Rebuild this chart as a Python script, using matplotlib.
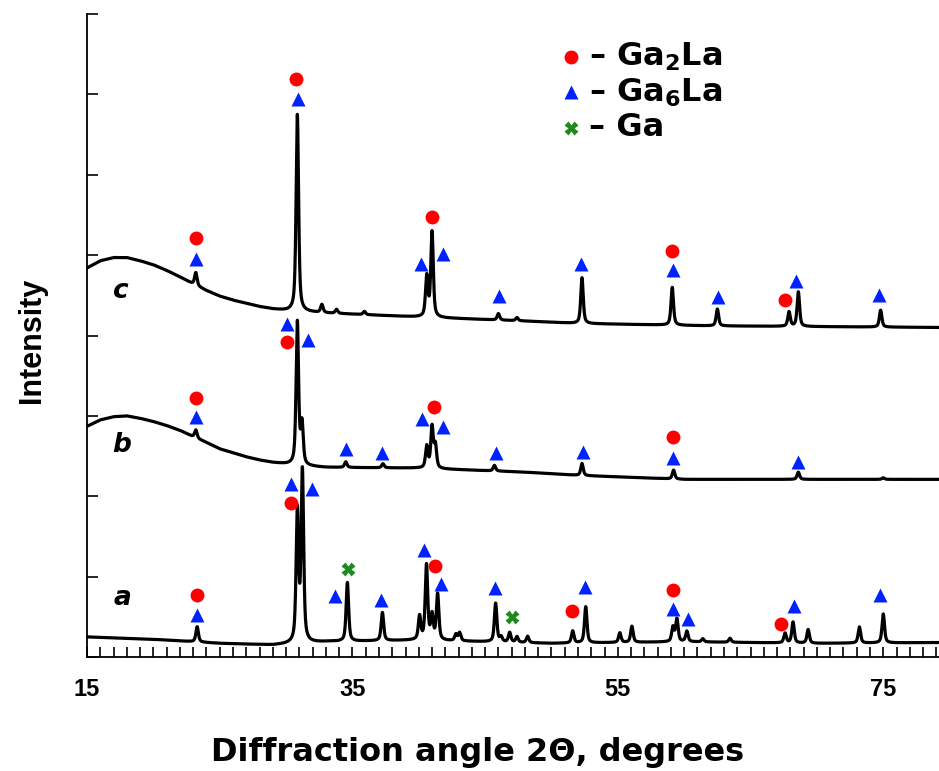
import numpy as np
import matplotlib
matplotlib.use("Agg")
import matplotlib.pyplot as plt
from matplotlib.ticker import FixedLocator, MultipleLocator

plt.rcParams["font.family"] = ["Liberation Sans", "DejaVu Sans"]
plt.rcParams["font.weight"] = "bold"
plt.rcParams["mathtext.fontset"] = "custom"
plt.rcParams["mathtext.rm"] = "DejaVu Sans:bold"
plt.rcParams["mathtext.default"] = "rm"

WIDE = ["DejaVu Sans"]

X_MIN, X_MAX = 15.0, 79.2
X_TICKS = [15, 35, 55, 75]

# Background of each pattern: (2theta, level) control points, stacking offset included
bg_a_x = [15, 20, 25, 29, 33, 40, 50, 60, 70, 79.2]
bg_a_y = [0.25, 0.22, 0.17, 0.15, 0.19, 0.21, 0.17, 0.19, 0.17, 0.18]

bg_b_x = [15, 16, 17, 18, 19, 20, 21, 22, 23, 24, 25, 26, 27, 28, 29, 30, 31, 33,
          40, 48, 52, 60, 79.2]
bg_b_y = [2.87, 2.95, 2.99, 3.00, 2.97, 2.93, 2.88, 2.82, 2.74, 2.67, 2.59, 2.54,
          2.49, 2.45, 2.42, 2.40, 2.38, 2.36, 2.35, 2.30, 2.26, 2.21, 2.21]

bg_c_x = [15, 16, 17, 18, 19, 20, 21, 22, 23, 24, 25, 26, 27, 28, 29, 30, 33, 40,
          48, 52, 62, 79.2]
bg_c_y = [4.84, 4.93, 4.97, 4.97, 4.93, 4.88, 4.81, 4.73, 4.64, 4.56, 4.49, 4.44,
          4.40, 4.36, 4.33, 4.31, 4.28, 4.23, 4.18, 4.15, 4.12, 4.10]

# Reflections: position (deg) and height above background
pk_a_pos = [23.3, 30.85, 31.23, 34.62, 37.26, 40.06, 40.58, 41.0, 41.42, 42.8, 43.08,
            45.79, 46.2, 46.85, 47.4, 48.2, 51.6, 52.58, 55.15, 56.06, 59.15, 59.45,
            60.2, 61.4, 63.45, 67.6, 68.2, 69.34, 73.2, 75.0]
pk_a_h = [0.19, 1.62, 2.12, 0.73, 0.35, 0.29, 0.93, 0.30, 0.57, 0.08, 0.10,
          0.48, 0.06, 0.12, 0.07, 0.08, 0.15, 0.45, 0.12, 0.20, 0.18, 0.28,
          0.13, 0.04, 0.05, 0.12, 0.26, 0.17, 0.20, 0.36]

pk_b_pos = [23.2, 30.85, 31.2, 34.5, 37.3, 40.6, 41.0, 41.25, 45.7, 52.3, 59.2, 68.6, 75.0]
pk_b_h = [0.10, 1.78, 0.50, 0.07, 0.05, 0.27, 0.51, 0.28, 0.07, 0.15, 0.11, 0.09, 0.02]

pk_c_pos = [23.2, 30.85, 32.7, 33.8, 35.9, 40.6, 41.0, 46.0, 47.4, 52.3, 59.1, 62.5,
            67.9, 68.6, 74.8]
pk_c_h = [0.16, 2.45, 0.10, 0.05, 0.04, 0.50, 1.06, 0.08, 0.04, 0.57, 0.47, 0.21,
          0.18, 0.43, 0.21]

# Phase markers (2theta, level) for each pattern
a_ga2la_x = [23.30, 30.40, 41.26, 51.53, 59.15, 67.30]
a_ga2la_y = [0.77, 1.92, 1.13, 0.57, 0.83, 0.41]
a_ga6la_x = [23.30, 30.40, 31.98, 33.72, 37.19, 40.43, 41.64, 45.72, 52.51, 59.15, 60.28, 68.28, 74.77]
a_ga6la_y = [0.52, 2.15, 2.09, 0.76, 0.71, 1.33, 0.91, 0.86, 0.87, 0.60, 0.47, 0.63, 0.77]
a_ga_x = [34.70, 47.00]
a_ga_y = [1.09, 0.50]

b_ga2la_x = [23.23, 30.09, 41.11, 59.15]
b_ga2la_y = [3.22, 3.92, 3.11, 2.74]
b_ga6la_x = [23.23, 30.09, 31.68, 34.55, 37.26, 40.21, 41.79, 45.79, 52.36, 59.15, 68.58]
b_ga6la_y = [2.99, 4.14, 3.94, 2.59, 2.54, 2.96, 2.86, 2.54, 2.55, 2.48, 2.43]

c_ga2la_x = [23.23, 30.77, 40.96, 59.08, 67.60]
c_ga2la_y = [5.21, 7.19, 5.47, 5.05, 4.44]
c_ga6la_x = [23.23, 30.92, 40.13, 41.79, 46.02, 52.21, 59.15, 62.55, 68.43, 74.70]
c_ga6la_y = [4.95, 6.94, 4.89, 5.02, 4.49, 4.89, 4.81, 4.48, 4.68, 4.50]

RED = "#ff0000"
BLUE = "#0022ff"
GREEN = "#1e8a1e"


def pattern(x, bg_x, bg_y, pos, h, hw=0.11):
    y = np.interp(x, bg_x, bg_y)
    for p, a in zip(pos, h):
        d = (x - p) / hw
        # pseudo-Voigt profile
        y += a * (0.6 / (1 + d ** 2) + 0.4 * np.exp(-np.log(2) * d ** 2))
    return y


def main():
    fig = plt.figure(figsize=(9.39, 7.71), dpi=100)
    ax = fig.add_axes([87 / 939, 114 / 771, 852 / 939, 643 / 771])

    x = np.arange(X_MIN, X_MAX, 0.005)
    for bx, by, pos, h in [(bg_a_x, bg_a_y, pk_a_pos, pk_a_h),
                           (bg_b_x, bg_b_y, pk_b_pos, pk_b_h),
                           (bg_c_x, bg_c_y, pk_c_pos, pk_c_h)]:
        ax.plot(x, pattern(x, bx, by, pos, h), color="black", lw=2.3)

    ms = 10
    for gx, gy in [(a_ga2la_x, a_ga2la_y), (b_ga2la_x, b_ga2la_y), (c_ga2la_x, c_ga2la_y)]:
        ax.plot(gx, gy, "o", color=RED, ms=ms, mec="none")
    for gx, gy in [(a_ga6la_x, a_ga6la_y), (b_ga6la_x, b_ga6la_y), (c_ga6la_x, c_ga6la_y)]:
        ax.plot(gx, gy, "^", color=BLUE, ms=ms, mec="none")
    ax.plot(a_ga_x, a_ga_y, "X", color=GREEN, ms=ms, mec="none")

    for name, lx, ly in [("a", 17.64, 0.73), ("b", 17.64, 2.64), ("c", 17.49, 4.55)]:
        ax.text(lx, ly, name, fontsize=19, family=WIDE, style="italic",
                fontweight="bold", ha="center", va="center")

    # legend drawn by hand
    legend = [("o", RED, "– Ga$_2$La"), ("^", BLUE, "– Ga$_6$La"), ("X", GREEN, "– Ga")]
    for i, (m, c, lab) in enumerate(legend):
        yy = 0.933 - i * 0.055
        ax.plot([0.568], [yy], m, color=c, ms=ms, mec="none", transform=ax.transAxes)
        ax.text(0.589, yy, lab, fontsize=23, family=WIDE, fontweight="bold",
                va="center", transform=ax.transAxes)

    ax.set_xlim(X_MIN, X_MAX)
    ax.set_ylim(0, 8)
    ax.xaxis.set_major_locator(FixedLocator(X_TICKS))
    ax.xaxis.set_minor_locator(MultipleLocator(1))
    ax.yaxis.set_major_locator(MultipleLocator(1))
    ax.tick_params(axis="x", which="both", direction="in", length=7, width=1.2,
                   labelsize=17, pad=15)
    ax.tick_params(axis="y", direction="in", length=8, width=1.2, labelleft=False)
    for s in ["top", "right"]:
        ax.spines[s].set_visible(False)
    for s in ["left", "bottom"]:
        ax.spines[s].set_linewidth(1.3)

    fig.text(478 / 939, 1 - 752 / 771, "Diffraction angle 2Θ, degrees",
             fontsize=23, family=WIDE, fontweight="bold", ha="center", va="center")
    fig.text(32 / 939, 1 - 340 / 771, "Intensity", fontsize=22, fontweight="bold",
             rotation=90, ha="center", va="center")

    fig.savefig("out.png", dpi=100)
    plt.close(fig)


if __name__ == "__main__":
    main()
